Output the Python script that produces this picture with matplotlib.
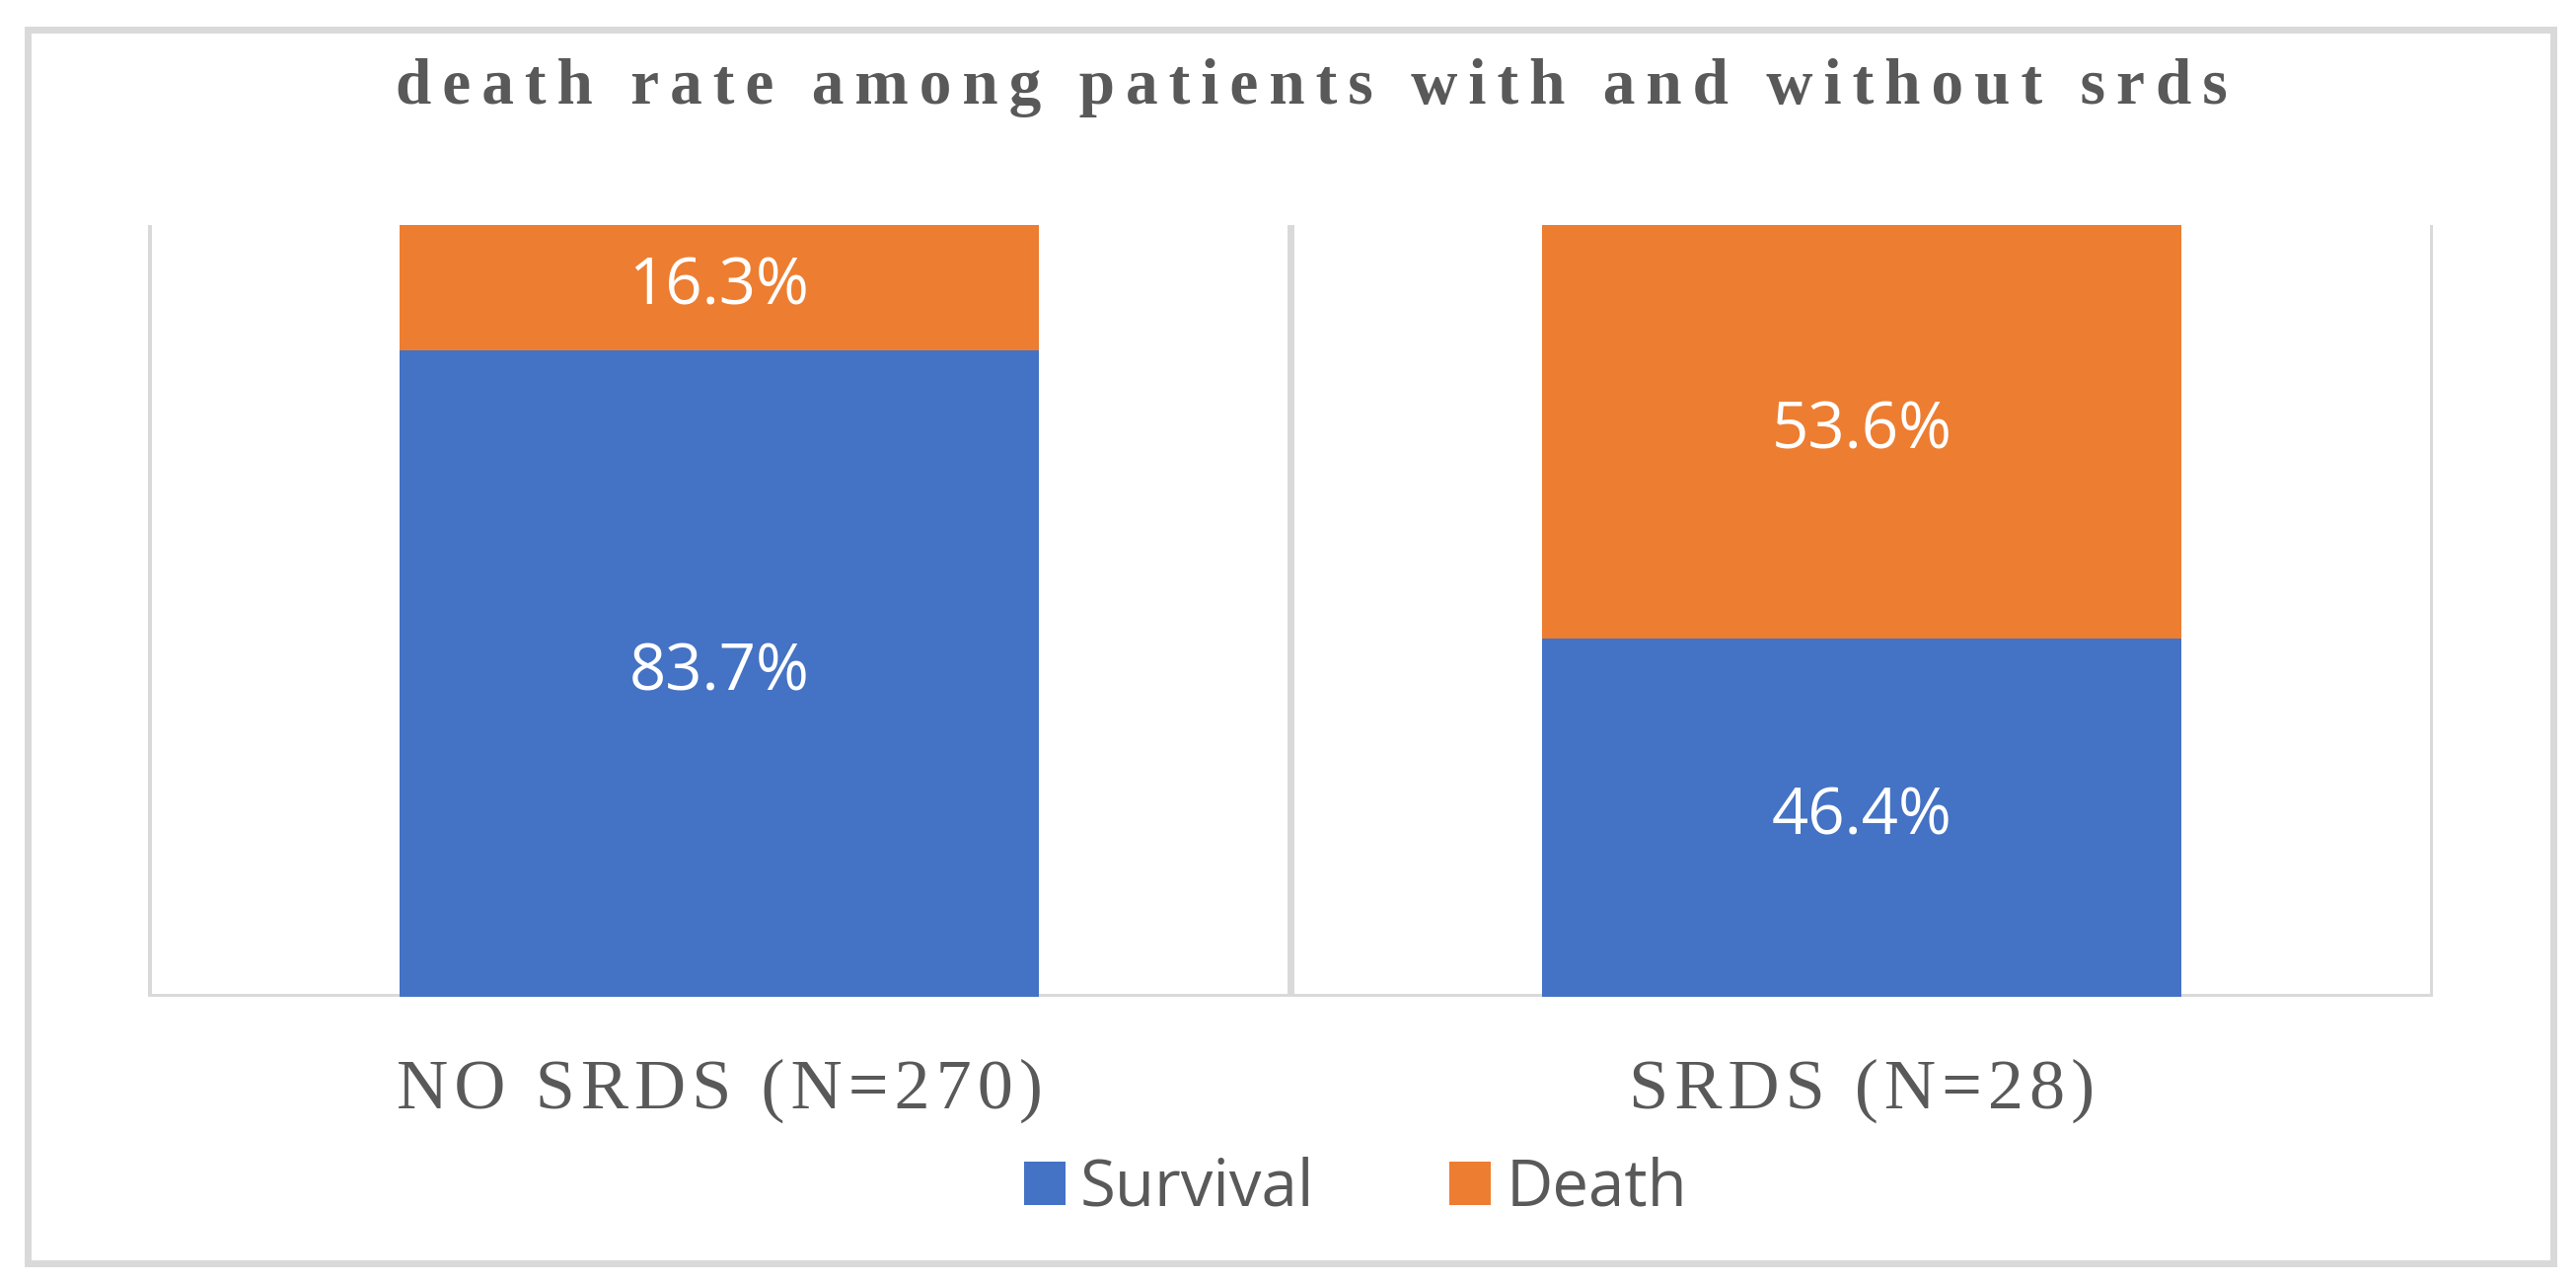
import matplotlib
matplotlib.use('Agg')
import matplotlib.pyplot as plt
from matplotlib.patches import Rectangle

categories = ['NO SRDS (N=270)', 'SRDS (N=28)']
survival = [83.7, 46.4]
death = [16.3, 53.6]
series_names = ['Survival', 'Death']
title = 'death rate among patients with and without srds'

blue = '#4472c4'
orange = '#ed7d31'
grey_line = '#d9d9d9'
grey_text = '#595959'


def spaced(s, sep='\u200a'):
    # Excel style letter spacing, done with hair spaces
    return sep.join(s)


fig = plt.figure(figsize=(26.11, 13.01), dpi=100)
ax = fig.add_axes([150 / 2611, 1 - 1010 / 1301, (2466 - 150) / 2611, (1010 - 228) / 1301])

x = list(range(len(categories)))
b1 = ax.bar(x, survival, width=0.56, color=blue, label=series_names[0], zorder=3)
b2 = ax.bar(x, death, width=0.56, bottom=survival, color=orange, label=series_names[1], zorder=3)

for bars, vals, bottoms in [(b1, survival, [0, 0]), (b2, death, survival)]:
    for rect, v, b in zip(bars, vals, bottoms):
        ax.text(rect.get_x() + rect.get_width() / 2, b + v / 2, f'{v:.1f}%',
                ha='center', va='center', color='white', fontsize=47,
                family='Open Sans', zorder=4)

ax.set_xlim(-0.5, len(categories) - 0.5)
ax.set_ylim(0, 100)

# vertical separators between categories
for gx in [-0.5, 0.5, 1.5]:
    ax.axvline(gx, color=grey_line, lw=5, zorder=1)
ax.axhline(0, color=grey_line, lw=5, zorder=2)

for s in ax.spines.values():
    s.set_visible(False)
ax.set_yticks([])
ax.set_xticks(x)
ax.set_xticklabels([spaced(c) for c in categories], family='Liberation Serif',
                   fontsize=52, color=grey_text)
ax.tick_params(axis='x', length=0, pad=45)

fig.text(1329 / 2611, 1 - 105 / 1301, spaced(title, '\u200a\u200a'), ha='center', va='baseline',
         family='Liberation Serif', fontweight='bold', fontsize=47, color=grey_text)

leg = fig.legend(loc='center', bbox_to_anchor=(1374 / 2611, 1 - 1205 / 1301), ncol=2,
                 frameon=False, prop={'family': 'Open Sans', 'size': 47},
                 handlelength=0.64, handleheight=0.64, handletextpad=0.23,
                 columnspacing=2.1)
for t in leg.get_texts():
    t.set_color(grey_text)

# outer chart border
fig.patches.append(Rectangle((28 / 2611, 1 - 1280 / 1301), (2588 - 28) / 2611, (1280 - 30) / 1301,
                             transform=fig.transFigure, fill=False, ec=grey_line, lw=5))

fig.savefig('out.png', dpi=100, facecolor='white')
